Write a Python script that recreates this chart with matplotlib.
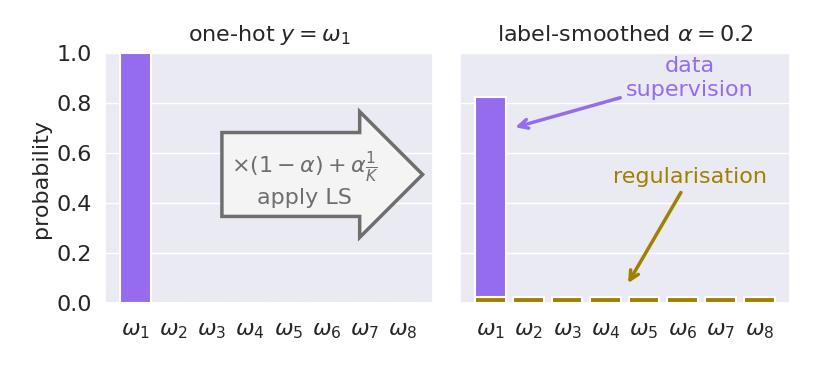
import numpy as np
import matplotlib.pyplot as plt
import seaborn as sns

# data
classes = [r"$\omega_%d$" % i for i in range(1, 9)]
one_hot = [1.0, 0, 0, 0, 0, 0, 0, 0]
alpha = 0.2
K = 8
uniform = [alpha / K] * K                      # regularisation part
supervision = [(1 - alpha) * v for v in one_hot]  # data supervision part

purple = "#966cee"
olive = "#a08000"
gray = "#6e6e6e"
fs = 16

sns.set_theme(style="darkgrid")
plt.rcParams["font.family"] = ["DejaVu Sans"]
plt.rcParams["font.size"] = fs

fig = plt.figure(figsize=(8.14, 3.66), dpi=100)
ax1 = fig.add_axes([0.129, 0.172, 0.403, 0.683])
ax2 = fig.add_axes([0.565, 0.172, 0.405, 0.683])

x = np.arange(len(classes))

# left: one-hot
ax1.bar(x, one_hot, width=0.8, color=purple, edgecolor="white", linewidth=1.5)
ax1.set_ylim(0, 1.0)
ax1.set_xticks(x)
ax1.set_xticklabels(classes, fontsize=fs)
ax1.tick_params(axis="x", pad=7)
ax1.set_title(r"one-hot $y = \omega_1$", fontsize=fs, pad=9)
ax1.set_ylabel("probability", fontsize=fs)
ax1.tick_params(axis="y", labelsize=fs)
ax1.grid(axis="x", visible=False)

ax1.text(0.608, 0.5, "$\\times(1-\\alpha)+\\alpha\\frac{1}{K}$\napply LS",
         transform=ax1.transAxes, ha="center", va="center", color=gray,
         fontsize=fs, linespacing=1.25,
         bbox=dict(boxstyle="rarrow,pad=0.4", fc="#f4f4f4", ec=gray, lw=2.5))

# right: label smoothed
ax2.bar(x, uniform, width=0.8, color=olive, edgecolor="white", linewidth=1.5)
ax2.bar(x, supervision, width=0.8, bottom=uniform, color=purple,
        edgecolor="white", linewidth=1.5)
ax2.set_ylim(0, 1.0)
ax2.set_xticks(x)
ax2.set_xticklabels(classes, fontsize=fs)
ax2.tick_params(axis="x", pad=7)
ax2.set_yticklabels([])
ax2.set_title(r"label-smoothed $\alpha = 0.2$", fontsize=fs, pad=9)
ax2.grid(axis="x", visible=False)

ax2.annotate("data\nsupervision", xy=(0.58, 0.70), xytext=(5.2, 0.9),
             ha="center", va="center", color=purple, fontsize=fs,
             linespacing=1.2,
             arrowprops=dict(arrowstyle="->", color=purple, lw=2.5))
ax2.annotate("regularisation", xy=(3.55, 0.07), xytext=(5.2, 0.505),
             ha="center", va="center", color=olive, fontsize=fs,
             arrowprops=dict(arrowstyle="->", color=olive, lw=2.5))

fig.savefig("out.png", dpi=100)
